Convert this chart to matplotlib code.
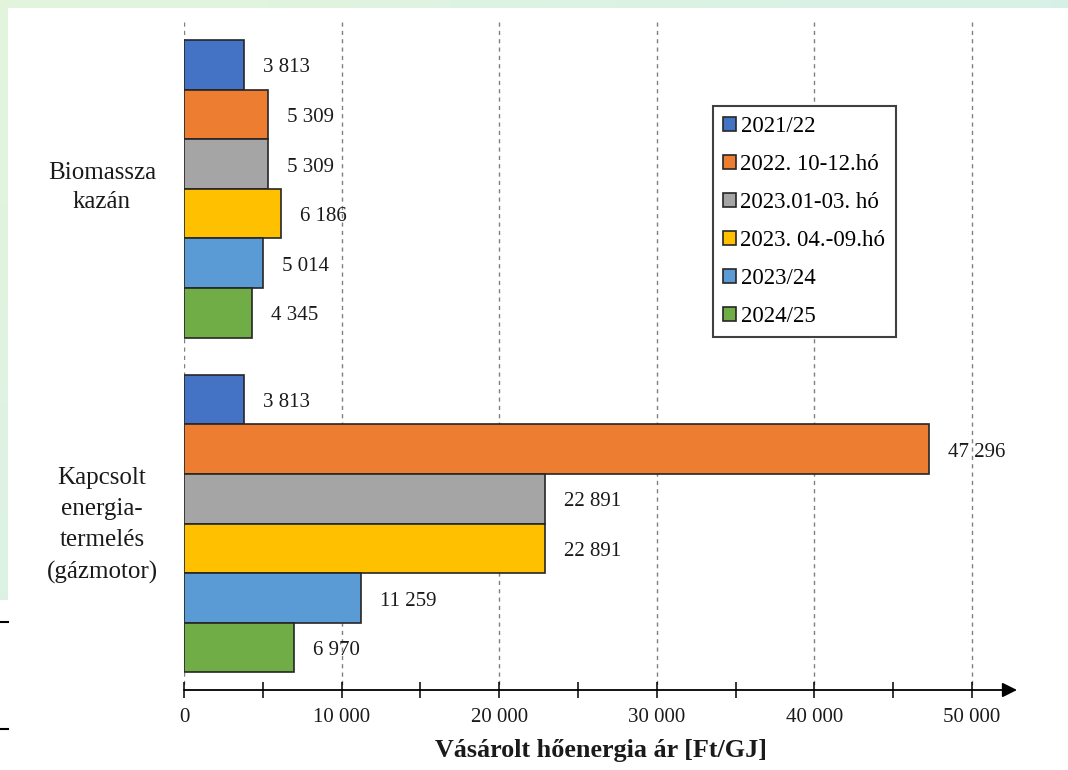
import matplotlib
matplotlib.use("Agg")
import matplotlib.pyplot as plt
import numpy as np
from matplotlib.patches import Patch

# ---- data ----
groups = ["Biomassza\nkazán", "Kapcsolt\nenergia-\ntermelés\n(gázmotor)"]
periods = ["2021/22", "2022. 10-12.hó", "2023.01-03. hó",
           "2023. 04.-09.hó", "2023/24", "2024/25"]
biomassza = [3813, 5309, 5309, 6186, 5014, 4345]
gazmotor = [3813, 47296, 22891, 22891, 11259, 6970]
xticks = [0, 10000, 20000, 30000, 40000, 50000]
xtick_labels = ["0", "10 000", "20 000", "30 000", "40 000", "50 000"]
minor_ticks = [5000, 15000, 25000, 35000, 45000]
xlabel = "Vásárolt hőenergia ár [Ft/GJ]"

colors = ["#4472C4", "#ED7D31", "#A5A5A5", "#FFC000", "#5B9BD5", "#70AD47"]
serif = ["Liberation Serif", "DejaVu Serif"]

W, H = 1068, 770
fig = plt.figure(figsize=(W / 100, H / 100), dpi=100)
fig.patch.set_facecolor("white")

# light green page border (top and left)
bg = fig.add_axes([0, 0, 1, 1], zorder=-10)
bg.set_xlim(0, W)
bg.set_ylim(H, 0)
bg.axis("off")
top_grad = np.linspace(0, 1, 64)[None, :, None]
c0 = np.array([0.890, 0.961, 0.863])
c1 = np.array([0.843, 0.945, 0.910])
bg.imshow(c0 * (1 - top_grad) + c1 * top_grad, extent=[0, W, 8, 0], aspect="auto")
left_grad = np.linspace(0, 1, 64)[:, None, None]
c2 = np.array([0.863, 0.949, 0.894])
bg.imshow(c0 * (1 - left_grad) + c2 * left_grad, extent=[0, 8, 600, 0], aspect="auto")
bg.plot([0, 8], [622, 622], color="black", lw=1.5)
bg.plot([0, 8], [729, 729], color="black", lw=1.5)

# ---- main axes ----
px_per_bar = 49.6
ax = fig.add_axes([184 / W, 1 - 700 / H, (1017 - 184) / W, (700 - 22) / H])
y_top = -0.5 - (40 - 22) / px_per_bar
y_bot = y_top + (700 - 22) / px_per_bar
ax.set_xlim(0, 50000 * (1017 - 184) / 788)
ax.set_ylim(y_bot, y_top)
ax.axis("off")

def ypix(p):
    return (p - 40) / px_per_bar - 0.5

axis_y = ypix(690)

# dashed vertical grid
ax.vlines(xticks, y_top, axis_y, colors="#808080", linestyles=(0, (3, 3)),
          linewidth=1.0, zorder=1)

offsets = [0, 6.75]
for g, vals in enumerate([biomassza, gazmotor]):
    pos = offsets[g] + np.arange(len(vals))
    ax.barh(pos, vals, height=1.0, color=colors, edgecolor="#262626",
            linewidth=1.2, zorder=3)
    for p, v in zip(pos, vals):
        ax.annotate(f"{v:,}".replace(",", " "), xy=(v, p), xytext=(19, -3),
                    textcoords="offset pixels", ha="left", va="center",
                    fontsize=15, family=serif, color="#1a1a1a", zorder=4)

# x axis with arrow
ax.annotate("", xy=(ax.get_xlim()[1], axis_y), xytext=(0, axis_y),
            arrowprops=dict(arrowstyle="-|>", color="black", lw=1.3,
                            mutation_scale=22, shrinkA=0, shrinkB=0),
            annotation_clip=False, zorder=5)
ax.vlines(xticks + minor_ticks, ypix(682), ypix(698), colors="black",
          linewidth=1.1, clip_on=False, zorder=5)
for x, lab in zip(xticks, xtick_labels):
    ax.text(x, ypix(717), lab, ha="center", va="center", fontsize=15,
            family=serif, color="#1a1a1a", clip_on=False)

fig.text(601 / W, 1 - 750 / H, xlabel, ha="center", va="center",
         fontsize=18.8, fontweight="bold", family=serif, color="#1a1a1a")

# group labels
group_centers = [(40 + 337) / 2 - 1, (374 + 673) / 2 + 2]
group_spacing = [1.4, 1.55]
for lab, yc, ls in zip(groups, group_centers, group_spacing):
    fig.text(102 / W, 1 - yc / H, lab, ha="center", va="center",
             fontsize=18, family=serif, color="#1a1a1a", linespacing=ls)

# legend
handles = [Patch(facecolor=c, edgecolor="#262626", linewidth=1.2) for c in colors]
leg = fig.legend(handles, periods, loc="upper left",
                 bbox_to_anchor=(713 / W, 1 - 106 / H),
                 bbox_transform=fig.transFigure,
                 prop={"family": serif, "size": 16.5},
                 handlelength=0.55, handleheight=0.55, handletextpad=0.2,
                 labelspacing=0.74, borderpad=0.45, borderaxespad=0,
                 fancybox=False, framealpha=1, edgecolor="#404040")
leg.get_frame().set_linewidth(1.5)

fig.savefig("out.png", dpi=100)
